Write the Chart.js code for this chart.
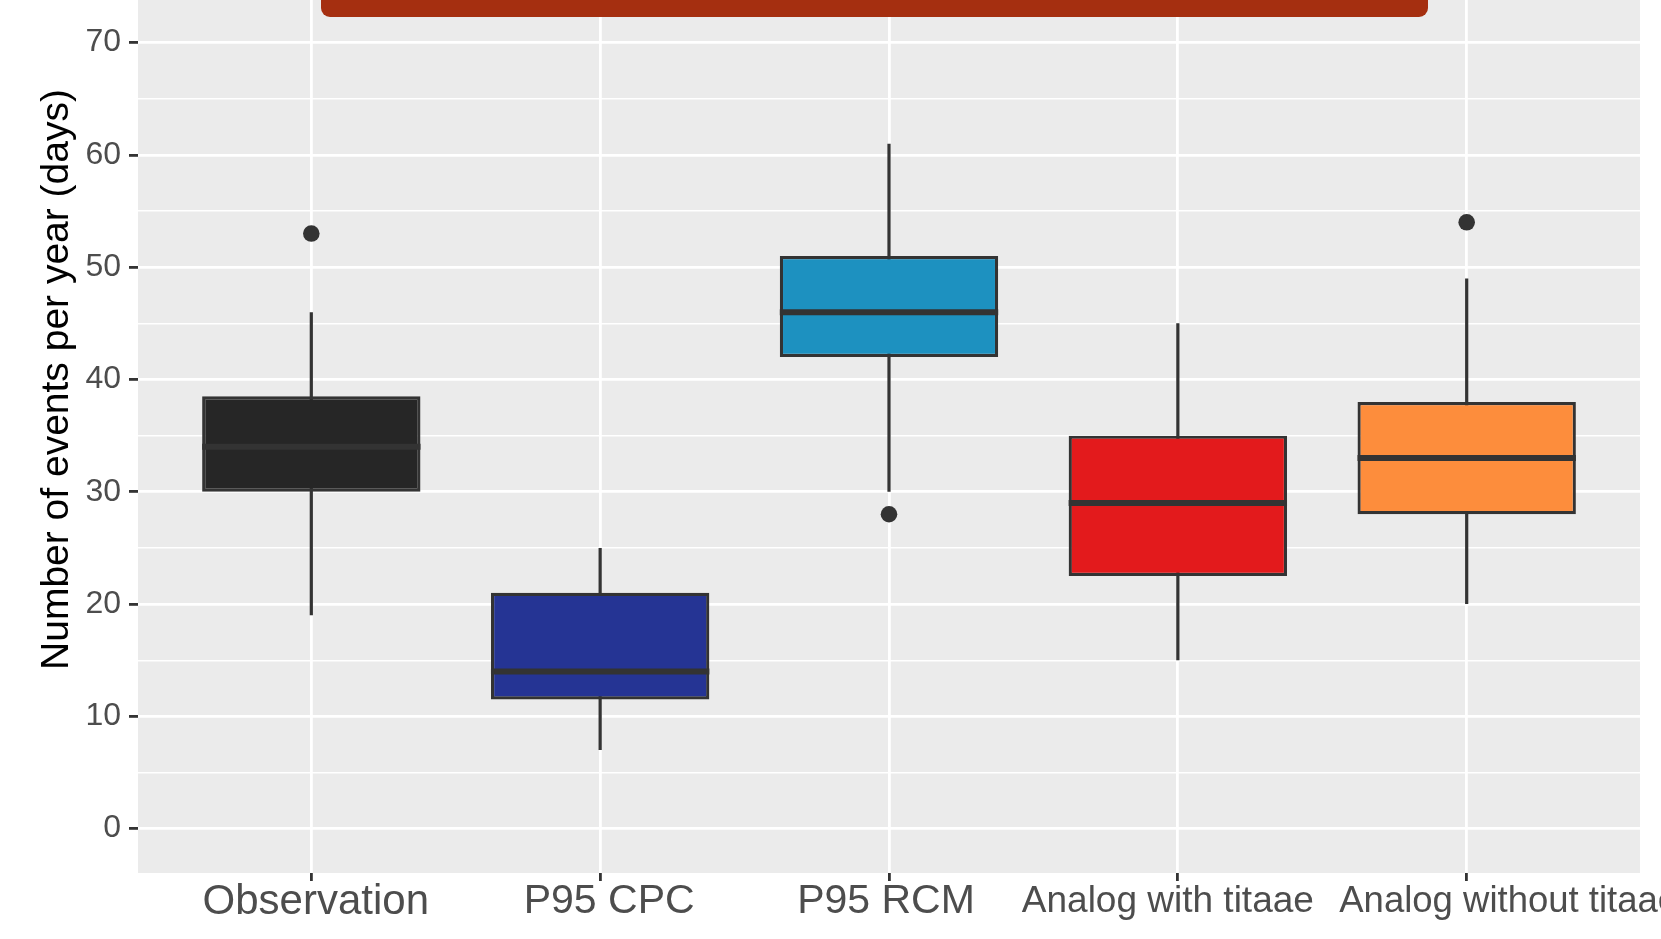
<!DOCTYPE html>
<html>
<head>
<meta charset="utf-8">
<script src="https://cdn.jsdelivr.net/npm/chart.js@4.4.1/dist/chart.umd.min.js"></script>
<style>
  html, body { margin: 0; padding: 0; background: #fff; overflow: hidden; }
  #wrap { position: relative; width: 1661px; height: 939px; overflow: hidden; }
  /* panel continues above the visible crop, like the original figure */
  #chart { position: absolute; left: 0; top: -114px; }
  #banner { position: absolute; left: 321px; top: 0; width: 1107px; height: 17px;
            background: #a52f10; border-radius: 0 0 9px 9px; }
</style>
</head>
<body>
<div id="wrap">
  <canvas id="chart" width="1661" height="1053"></canvas>
  <div id="banner"></div>
</div>
<script>
// boxplot summary per category (days per year)
const categories = ['Observation', 'P95 CPC', 'P95 RCM', 'Analog with titaae', 'Analog without titaae'];
const whiskerLow  = [19, 7, 30, 15, 20];
const lowerHinge  = [30, 11.5, 42, 22.5, 28];
const medians     = [34, 14, 46, 29, 33];
const upperHinge  = [38.5, 21, 51, 35, 38];
const whiskerHigh = [46, 25, 61, 45, 49];
const outlierCat  = [0, 2, 4];
const outlierVal  = [53, 28, 54];
const boxColors   = ['#262626', '#253494', '#1d91c0', '#e31a1c', '#fd8d3c'];
const yTicks = [0, 5, 10, 15, 20, 25, 30, 35, 40, 45, 50, 55, 60, 65, 70, 75, 80];
const xTicks = categories.map((c, i) => i);

// label styling of the x axis (sizes and small horizontal nudges, px)
const xLabelSize  = [42, 41, 41, 37, 36.5];
const xLabelShift = [4.5, 9, -3, -10, 42];

const HALF_BOX = 0.378;
const INK = '#333333';

Chart.defaults.font.family = "'Liberation Sans', Arial, sans-serif";

const boxData = categories.map((c, i) => ({ x: i, y: [lowerHinge[i], upperHinge[i]] }));
const whiskerData = [];
const medianData = [];
categories.forEach((c, i) => {
    whiskerData.push({ x: i, y: whiskerLow[i] }, { x: i, y: whiskerHigh[i] }, { x: i, y: null });
    medianData.push({ x: i - HALF_BOX, y: medians[i] }, { x: i + HALF_BOX, y: medians[i] }, { x: i, y: null });
});
const outlierData = outlierCat.map((c, k) => ({ x: c, y: outlierVal[k] }));

const isMajor = v => v % 10 === 0;
const noPad = scale => {
    scale.paddingLeft = 0; scale.paddingRight = 0;
    scale.paddingTop = 0; scale.paddingBottom = 0;
};

const panelBg = {
    id: 'panelBg',
    beforeDraw(chart) {
        const { ctx, chartArea: a } = chart;
        ctx.save();
        ctx.fillStyle = '#ebebeb';
        ctx.fillRect(a.left, a.top, a.right - a.left, a.bottom - a.top);
        ctx.restore();

        // nudge x labels the way the source figure places them
        chart.scales.x.getLabelItems(a).forEach((item, i) => {
            if (item._nudged) return;
            item._nudged = true;
            item.options.translation[0] += xLabelShift[i] || 0;
            item.textOffset = 21;
        });
    }
};

new Chart(document.getElementById('chart'), {
    type: 'bar',
    data: {
        datasets: [
            {
                type: 'scatter', data: outlierData, order: 0,
                pointRadius: 8.3, backgroundColor: INK, borderWidth: 0
            },
            {
                type: 'line', data: medianData, order: 1,
                borderColor: INK, borderWidth: 6, pointRadius: 0, spanGaps: false,
                borderCapStyle: 'butt'
            },
            {
                type: 'bar', data: boxData, order: 2,
                backgroundColor: boxColors, borderColor: INK, borderWidth: 3.2,
                borderSkipped: false, categoryPercentage: 1, barPercentage: 2 * HALF_BOX
            },
            {
                type: 'line', data: whiskerData, order: 3,
                borderColor: INK, borderWidth: 3.2, pointRadius: 0, spanGaps: false
            }
        ]
    },
    options: {
        responsive: false,
        animation: false,
        layout: { autoPadding: false, padding: { left: 8, right: 21, top: 0, bottom: 16 } },
        plugins: { legend: { display: false }, tooltip: { enabled: false } },
        scales: {
            x: {
                type: 'linear', min: -0.6, max: 4.6, offset: false,
                afterBuildTicks: s => { s.ticks = xTicks.map(v => ({ value: v })); },
                afterFit: noPad,
                border: { display: false },
                grid: { color: '#ffffff', lineWidth: 2.8, tickColor: INK, tickWidth: 2.8, tickLength: 8, offset: false },
                ticks: {
                    autoSkip: false, maxRotation: 0, minRotation: 0, padding: 0,
                    color: '#4d4d4d',
                    font: c => ({ size: xLabelSize[c.index] || 41, lineHeight: 1 }),
                    callback: v => categories[v]
                }
            },
            y: {
                type: 'linear', min: -3.95, max: 83.95,
                afterBuildTicks: s => { s.ticks = yTicks.map(v => ({ value: v })); },
                afterFit: s => { noPad(s); s.width = 130; },
                border: { display: false },
                grid: {
                    color: '#ffffff',
                    lineWidth: c => (c.tick && isMajor(c.tick.value)) ? 2.8 : 1.4,
                    tickColor: c => (c.tick && isMajor(c.tick.value)) ? INK : 'rgba(0,0,0,0)',
                    tickWidth: 2.8, tickLength: 9
                },
                ticks: {
                    autoSkip: false, padding: 8, color: '#4d4d4d', font: { size: 32 },
                    callback: v => isMajor(v) ? String(v) : ''
                },
                title: {
                    display: true, text: 'Number of events per year (days)', color: '#000000',
                    font: { size: 39 }, padding: { top: 26, bottom: 9 }
                }
            }
        }
    },
    plugins: [panelBg]
});
</script>
</body>
</html>
